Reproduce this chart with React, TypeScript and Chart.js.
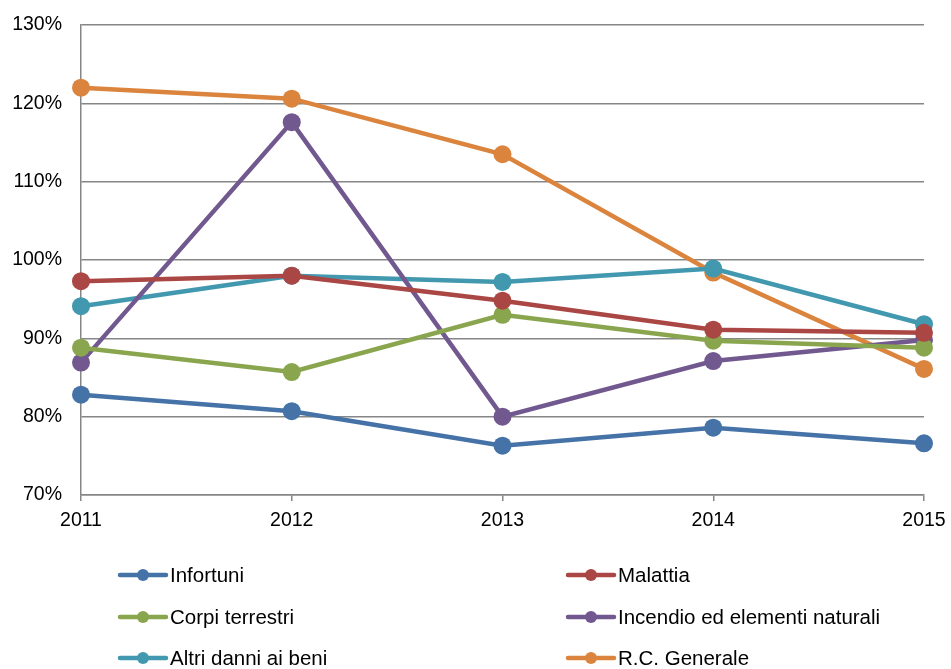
import React, { useEffect, useRef } from "react";
import { Chart, registerables } from "chart.js";

Chart.register(...registerables);

const years = ["2011", "2012", "2013", "2014", "2015"];
const infortuni = [82.8, 80.7, 76.3, 78.6, 76.6];
const malattia = [97.3, 98.0, 94.8, 91.1, 90.7];
const corpiTerrestri = [88.8, 85.7, 93.0, 89.7, 88.8];
const incendio = [86.9, 117.6, 80.0, 87.1, 89.8];
const altriDanni = [94.1, 98.0, 97.2, 98.9, 91.8];
const rcGenerale = [122.0, 120.6, 113.5, 98.4, 86.1];

const seriesNames = [
  "Infortuni",
  "Malattia",
  "Corpi terrestri",
  "Incendio ed elementi naturali",
  "Altri danni ai beni",
  "R.C. Generale",
];
const seriesValues = [infortuni, malattia, corpiTerrestri, incendio, altriDanni, rcGenerale];
const seriesColors = ["#4572A7", "#AA4643", "#89A54E", "#71588F", "#4198AF", "#DB843D"];

const FONT = "Liberation Sans, Arial, sans-serif";
const TICK_SIZE = 19.5;
const LEGEND_SIZE = 20.5;

const legendPlugin = {
  id: "gridLegend",
  afterDraw(chart: any) {
    const ctx = chart.ctx;
    const colX = [120, 568];
    const rowY = [575, 617, 658];
    ctx.save();
    ctx.font = `${LEGEND_SIZE}px ${FONT}`;
    ctx.textBaseline = "middle";
    ctx.textAlign = "left";
    chart.data.datasets.forEach((ds: any, i: number) => {
      const x = colX[i % 2];
      const y = rowY[Math.floor(i / 2)];
      ctx.strokeStyle = ds.borderColor;
      ctx.lineWidth = 4.5;
      ctx.lineCap = "round";
      ctx.beginPath();
      ctx.moveTo(x, y);
      ctx.lineTo(x + 46, y);
      ctx.stroke();
      ctx.fillStyle = ds.borderColor;
      ctx.beginPath();
      ctx.arc(x + 23, y, 6, 0, Math.PI * 2);
      ctx.fill();
      ctx.fillStyle = "#000";
      ctx.fillText(ds.label, x + 50, y + 1);
    });
    ctx.restore();
  },
};

export default function App() {
  const ref = useRef<HTMLCanvasElement | null>(null);
  useEffect(() => {
    if (!ref.current) return;
    const chart = new Chart(ref.current, {
      type: "line",
      data: {
        labels: years,
        datasets: seriesNames.map((name, i) => ({
          label: name,
          data: seriesValues[i],
          borderColor: seriesColors[i],
          backgroundColor: seriesColors[i],
          pointBackgroundColor: seriesColors[i],
          pointBorderColor: seriesColors[i],
          borderWidth: 4.5,
          pointRadius: 9,
          pointBorderWidth: 0,
          tension: 0,
          fill: false,
        })),
      },
      options: {
        animation: false,
        responsive: false,
        events: [],
        layout: { padding: { left: 0, right: 27, top: 25, bottom: 134 } },
        plugins: { legend: { display: false }, tooltip: { enabled: false } },
        scales: {
          x: {
            offset: false,
            grid: { drawOnChartArea: false, drawTicks: true, tickLength: 6, color: "#868686", lineWidth: 1.5 },
            border: { display: true, color: "#868686", width: 1.5 },
            ticks: { color: "#000", font: { family: FONT, size: TICK_SIZE }, padding: 8, maxRotation: 0, autoSkip: false },
            afterFit: (scale: any) => {
              scale.height = 40;
              scale.paddingLeft = 0;
              scale.paddingRight = 0;
            },
          },
          y: {
            min: 70,
            max: 130,
            grid: { drawTicks: false, color: "#868686", lineWidth: 1.5 },
            border: { display: true, color: "#868686", width: 1.5 },
            ticks: {
              stepSize: 10,
              color: "#000",
              padding: 19,
              font: { family: FONT, size: TICK_SIZE },
              callback: (v: any) => `${v}%`,
            },
            afterFit: (scale: any) => {
              scale.width = 81;
              scale.paddingTop = 0;
              scale.paddingBottom = 0;
            },
          },
        },
      },
      plugins: [legendPlugin],
    });
    return () => chart.destroy();
  }, []);
  return (
    <div style={{ position: "fixed", left: 0, top: 0, width: 951, height: 669, background: "#fff" }}>
      <canvas ref={ref} width={951} height={669} style={{ display: "block" }} />
    </div>
  );
}
